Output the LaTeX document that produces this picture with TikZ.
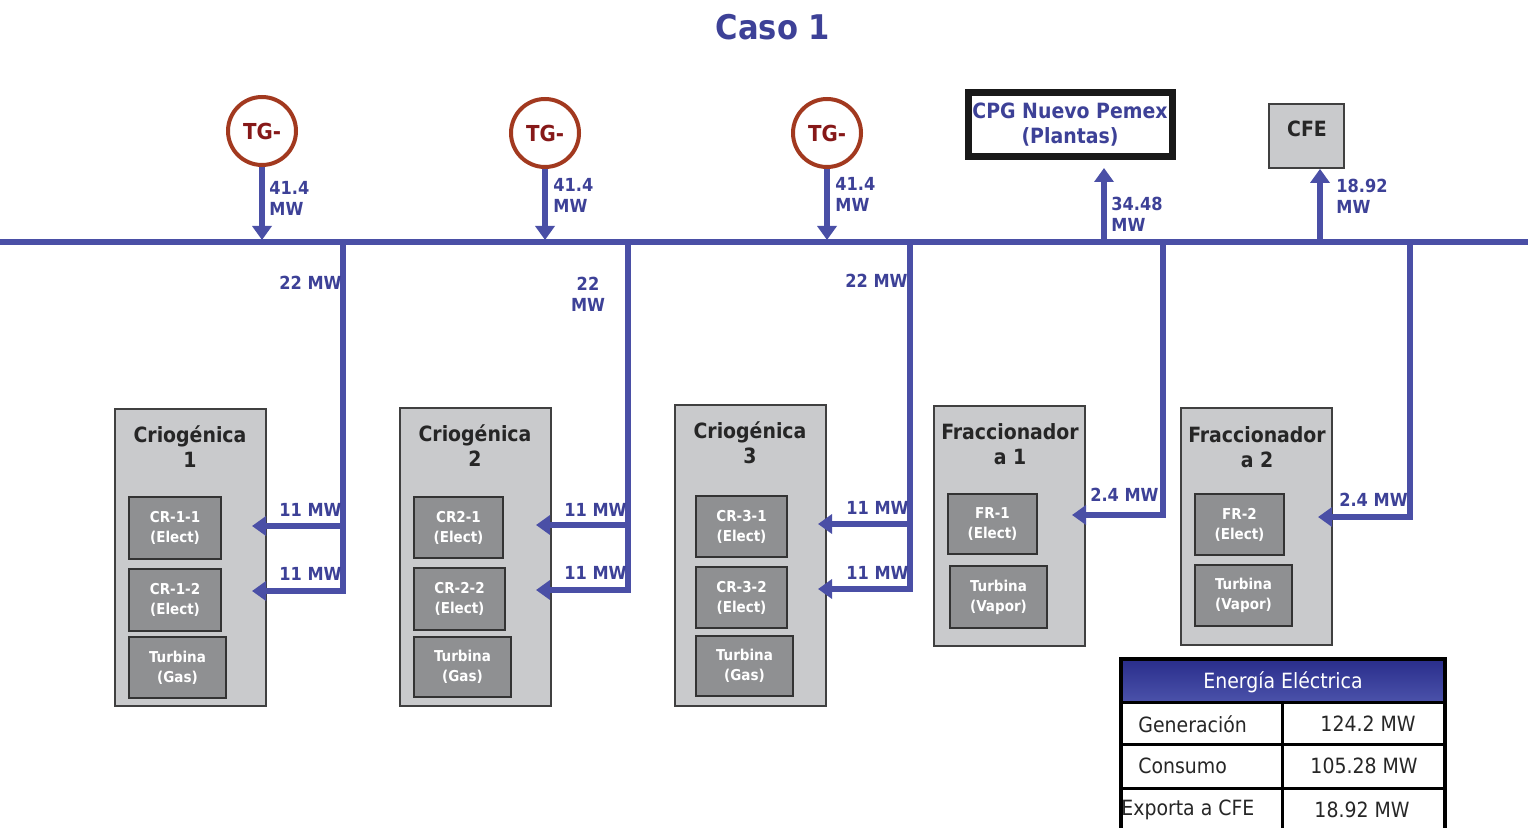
\documentclass[tikz,border=0pt]{standalone}
\usepackage{fontspec}
\setmainfont{DejaVu Sans Condensed}
\usetikzlibrary{arrows.meta,fit}
\definecolor{busblue}{HTML}{4A4FA6}
\definecolor{txtblue}{HTML}{3D4197}
\definecolor{tgred}{HTML}{A2391F}
\definecolor{tgtxt}{HTML}{861818}
\definecolor{boxgray}{HTML}{C9CACC}
\definecolor{unitgray}{HTML}{8F9092}
\definecolor{hdtop}{HTML}{2A2E8C}
\definecolor{hdbot}{HTML}{4B52AA}
\tikzset{
  bus/.style={draw=busblue,line width=2.6pt},
  feed/.style={draw=busblue,line width=2.6pt,line join=miter,-{Triangle[length=7pt,width=9.5pt]}},
  tg/.style={circle,draw=tgred,line width=2pt,fill=white,minimum size=34pt,inner sep=0pt,
    text=tgtxt,font=\bfseries\fontsize{11}{12}\selectfont},
  plant/.style={draw=black!75,line width=0.9pt,fill=boxgray,inner sep=0pt},
  unit/.style={draw=black!80,line width=0.9pt,fill=unitgray,inner sep=0pt},
  unittxt/.style={text=white,align=center,inner sep=0pt,font=\bfseries\fontsize{7.5}{10}\selectfont},
  ptitle/.style={align=center,text=black!85,font=\bfseries\fontsize{10.5}{12.5}\selectfont},
  mw/.style={text=txtblue,font=\bfseries\fontsize{9}{10.5}\selectfont,inner sep=0pt},
  cell/.style={inner sep=0pt,font=\fontsize{10.5}{12}\selectfont,text=black!85},
}
\begin{document}
\begin{tikzpicture}[x=0.5pt,y=0.5pt,yscale=-1]
  \useasboundingbox (0,0) rectangle (1534,828);
  \begin{scope}[]% layer1
  % title
  \node[text=txtblue,font=\bfseries\fontsize{17}{20}\selectfont] (title) at (773,27) {Caso 1};

  % bus bar
  \coordinate (busW) at (0,242);
  \coordinate (busE) at (1528,242);
  \draw[bus] (busW) -- (busE);

  % turbogenerators
  \node[tg] (tg1) at (262,131) {TG-};
  \node[tg] (tg2) at (545,133) {TG-};
  \node[tg] (tg3) at (827,133) {TG-};
  \coordinate (in1) at (262,240);
  \coordinate (in2) at (545,240);
  \coordinate (in3) at (827,240);
  \draw[feed] (tg1.south) -- (in1);
  \draw[feed] (tg2.south) -- (in2);
  \draw[feed] (tg3.south) -- (in3);
  \node[mw,anchor=west,align=left] (g1) at (269,198) {41.4\\MW};
  \node[mw,anchor=west,align=left] (g2) at (553,195) {41.4\\MW};
  \node[mw,anchor=west,align=left] (g3) at (835,194) {41.4\\MW};

  % exports
  \node[draw=black!90,line width=3.5pt,fill=white,inner sep=0pt,fit={(968,93) (1172,157)}] (cpg) {};
  \node[text=txtblue,align=center,font=\bfseries\fontsize{10.5}{12.5}\selectfont] (cpgt) at (cpg) {CPG Nuevo Pemex\\(Plantas)};
  \node[plant,fit={(1269,104) (1344,168)}] (cfe) {};
  \node[ptitle,anchor=north] (cfet) at (1307,114) {CFE};
  \coordinate (out1) at (1104,242);
  \coordinate (out2) at (1320,242);
  \coordinate (cpgin) at (1104,168);
  \draw[feed] (out1) -- (cpgin);
  \draw[feed] (out2) -- (cfe.south -| out2);
  \node[mw,anchor=west,align=left] (e1) at (1111,214) {34.48\\MW};
  \node[mw,anchor=west,align=left] (e2) at (1336,196) {18.92\\MW};

  % plants
  \node[plant,fit={(115,409) (266,706)}] (cr1) {};
  \node[plant,fit={(400,408) (551,706)}] (cr2) {};
  \node[plant,fit={(675,405) (826,706)}] (cr3) {};
  \node[plant,fit={(934,406) (1085,646)}] (fr1) {};
  \node[plant,fit={(1181,408) (1332,645)}] (fr2) {};
  \node[ptitle,anchor=north] at (190,419) {Criogénica\\1};
  \node[ptitle,anchor=north] at (475,418) {Criogénica\\2};
  \node[ptitle,anchor=north] at (750,415) {Criogénica\\3};
  \node[ptitle,anchor=north] at (1010,416) {Fraccionador\\a 1};
  \node[ptitle,anchor=north] at (1257,419) {Fraccionador\\a 2};

  % units
  \node[unit,fit={(129,497) (221,559)}] (cr11) {};
  \node[unit,fit={(129,569) (221,631)}] (cr12) {};
  \node[unit,fit={(129,637) (226,698)}] (cr1t) {};
  \node[unittxt] at (cr11) {CR-1-1\\(Elect)};
  \node[unittxt] at (cr12) {CR-1-2\\(Elect)};
  \node[unittxt] at (cr1t) {Turbina\\(Gas)};
  \node[unit,fit={(414,497) (503,558)}] (cr21) {};
  \node[unit,fit={(414,568) (505,630)}] (cr22) {};
  \node[unit,fit={(414,637) (511,697)}] (cr2t) {};
  \node[unittxt] at (cr21) {CR2-1\\(Elect)};
  \node[unittxt] at (cr22) {CR-2-2\\(Elect)};
  \node[unittxt] at (cr2t) {Turbina\\(Gas)};
  \node[unit,fit={(696,496) (787,557)}] (cr31) {};
  \node[unit,fit={(696,567) (787,628)}] (cr32) {};
  \node[unit,fit={(696,636) (793,696)}] (cr3t) {};
  \node[unittxt] at (cr31) {CR-3-1\\(Elect)};
  \node[unittxt] at (cr32) {CR-3-2\\(Elect)};
  \node[unittxt] at (cr3t) {Turbina\\(Gas)};
  \node[unit,fit={(948,494) (1037,554)}] (fr11) {};
  \node[unit,fit={(950,566) (1047,628)}] (fr1t) {};
  \node[unittxt] at (fr11) {FR-1\\(Elect)};
  \node[unittxt] at (fr1t) {Turbina\\(Vapor)};
  \node[unit,fit={(1195,494) (1284,555)}] (fr21) {};
  \node[unit,fit={(1195,565) (1292,626)}] (fr2t) {};
  \node[unittxt] at (fr21) {FR-2\\(Elect)};
  \node[unittxt] at (fr2t) {Turbina\\(Vapor)};

  % drops from the bus
  \coordinate (d1) at (343,242);   \coordinate (j1) at (343,526);
  \coordinate (a11) at (252,526);  \coordinate (a12) at (252,591);
  \draw[feed] (d1) |- (a12);
  \draw[feed] (j1) -- (a11);
  \coordinate (d2) at (628,242);   \coordinate (j2) at (628,525);
  \coordinate (a21) at (536,525);  \coordinate (a22) at (536,590);
  \draw[feed] (d2) |- (a22);
  \draw[feed] (j2) -- (a21);
  \coordinate (d3) at (910,242);   \coordinate (j3) at (910,524);
  \coordinate (a31) at (818,524);  \coordinate (a32) at (818,589);
  \draw[feed] (d3) |- (a32);
  \draw[feed] (j3) -- (a31);
  \coordinate (d4) at (1163,242);  \coordinate (a41) at (1072,515);
  \draw[feed] (d4) |- (a41);
  \coordinate (d5) at (1410,242);  \coordinate (a51) at (1318,517);
  \draw[feed] (d5) |- (a51);

  \node[mw,anchor=east] (l1) at (342,283) {22 MW};
  \node[mw,align=center] (l2) at (588,294) {22\\MW};
  \node[mw,anchor=east] (l3) at (908,281) {22 MW};
  \node[mw,anchor=east] at (342,510) {11 MW};
  \node[mw,anchor=east] at (342,574) {11 MW};
  \node[mw,anchor=east] at (627,510) {11 MW};
  \node[mw,anchor=east] at (627,573) {11 MW};
  \node[mw,anchor=east] at (909,508) {11 MW};
  \node[mw,anchor=east] at (909,573) {11 MW};
  \node[mw,anchor=east] at (1159,495) {2.4 MW};
  \node[mw,anchor=east] at (1408,500) {2.4 MW};

  % balance table
  \shade[top color=hdtop,bottom color=hdbot] (1122,660) rectangle (1444,702);
  \node[text=white,font=\fontsize{10.5}{12}\selectfont] (hd) at (1283,682) {Energía Eléctrica};
  \draw[line width=1.5pt] (1122,702) -- (1444,702);
  \draw[line width=1.5pt] (1122,744) -- (1444,744);
  \draw[line width=1.5pt] (1122,788) -- (1444,788);
  \draw[line width=1.5pt] (1282,702) -- (1282,830);
  \draw[line width=2pt] (1121,830) -- (1121,659) -- (1445,659) -- (1445,830);
  \node[cell,anchor=west] (r1) at (1138,724) {Generación};
  \node[cell,anchor=west] (r2) at (1138,766) {Consumo};
  \node[cell,anchor=west] (r3) at (1121,810) {Exporta a CFE};
  \node[cell] (v1) at (1368,724) {124.2 MW};
  \node[cell] (v2) at (1364,766) {105.28 MW};
  \node[cell] (v3) at (1362,810) {18.92 MW};
  \end{scope}
\end{tikzpicture}
\end{document}
